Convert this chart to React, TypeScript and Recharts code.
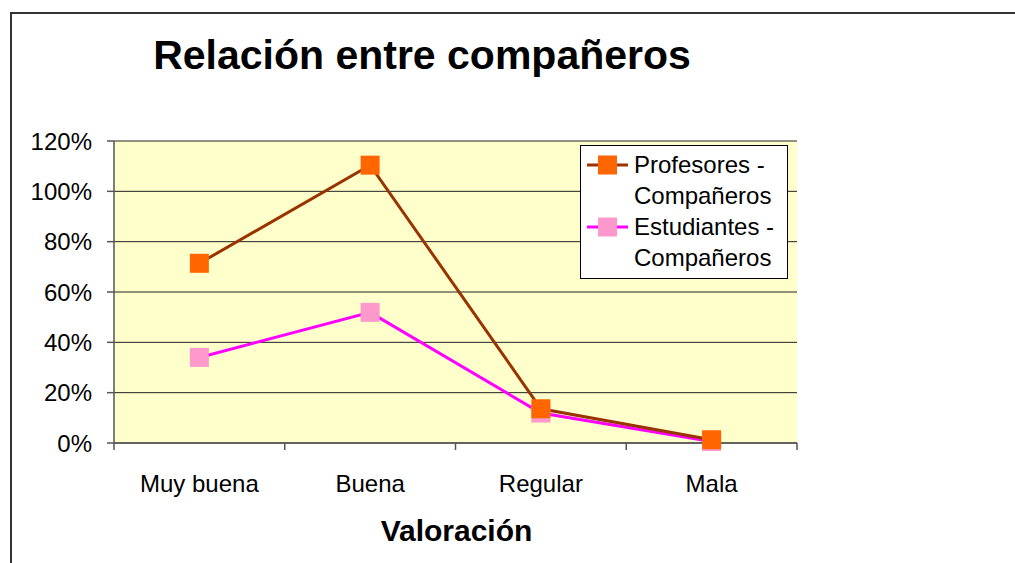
import React from 'react';
import { LineChart, Line, XAxis, YAxis, CartesianGrid } from 'recharts';

const categories = ['Muy buena', 'Buena', 'Regular', 'Mala'];
const profesores = [71.4, 110.4, 13.6, 1.3];
const estudiantes = [34, 51.9, 11.9, 0.6];
const yTicks = [0, 20, 40, 60, 80, 100, 120];

const data = categories.map((name, i) => ({
  name,
  profesores: profesores[i],
  estudiantes: estudiantes[i],
}));

const FONT = '"Liberation Sans", Arial, sans-serif';
const PLOT_LEFT = 114;
const PLOT_RIGHT = 797;
const BAND = (PLOT_RIGHT - PLOT_LEFT) / categories.length;

const SquareDot = (fill: string) => (props: any) => {
  const { cx, cy, index } = props;
  if (cx == null || cy == null) return null;
  return <rect key={index} x={cx - 9.5} y={cy - 9.5} width={19} height={19} fill={fill} />;
};

const CategoryTick = (props: any) => {
  const { x, y, payload, index } = props;
  const axisY = y - 8;
  return (
    <g>
      <line x1={x - BAND / 2} x2={x - BAND / 2} y1={axisY} y2={axisY + 7} stroke="#555" strokeWidth={1.5} />
      {index === categories.length - 1 && (
        <line x1={x + BAND / 2} x2={x + BAND / 2} y1={axisY} y2={axisY + 7} stroke="#555" strokeWidth={1.5} />
      )}
      <text x={x} y={axisY + 49} textAnchor="middle" fontSize={24} fontFamily={FONT} fill="#000">
        {payload.value}
      </text>
    </g>
  );
};

const legendItems = [
  { lines: ['Profesores -', 'Compañeros'], stroke: '#993300', fill: '#FF6600' },
  { lines: ['Estudiantes -', 'Compañeros'], stroke: '#FF00FF', fill: '#FF99CC' },
];

const LegendBox = () => (
  <div
    style={{
      position: 'absolute',
      left: 580,
      top: 145,
      border: '1px solid #000',
      background: '#fff',
      width: 208,
      padding: '3px 0 5px 0',
      fontFamily: FONT,
      fontSize: 24,
      lineHeight: '31px',
      color: '#000',
      boxSizing: 'border-box',
    }}
  >
    {legendItems.map((it) => (
      <div key={it.lines[0]} style={{ display: 'flex', alignItems: 'flex-start' }}>
        <svg width={53} height={31} style={{ flex: 'none' }}>
          <line x1={6} x2={47} y1={16} y2={16} stroke={it.stroke} strokeWidth={3} />
          <rect x={17} y={6.5} width={19} height={19} fill={it.fill} />
        </svg>
        <div>
          {it.lines.map((l) => (
            <div key={l}>{l}</div>
          ))}
        </div>
      </div>
    ))}
  </div>
);

export default function App() {
  return (
    <div style={{ position: 'absolute', left: 0, top: 0, width: 1015, height: 563, overflow: 'hidden', background: '#fff' }}>
      <div
        style={{
          position: 'absolute',
          left: 10,
          top: 12,
          width: 1100,
          height: 600,
          border: '2px solid #333',
        }}
      />
      <div
        style={{
          position: 'absolute',
          left: 0,
          width: 844,
          top: 35,
          textAlign: 'center',
          fontFamily: FONT,
          fontWeight: 'bold',
          fontSize: 41,
          lineHeight: '41px',
          color: '#000',
        }}
      >
        Relación entre compañeros
      </div>
      <div
        style={{
          position: 'absolute',
          left: 0,
          width: 913,
          top: 516,
          textAlign: 'center',
          fontFamily: FONT,
          fontWeight: 'bold',
          fontSize: 30,
          lineHeight: '30px',
          color: '#000',
        }}
      >
        Valoración
      </div>
      <div style={{ position: 'absolute', left: 0, top: 0 }}>
        <LineChart
          width={1015}
          height={563}
          data={data}
          margin={{ top: 141, right: 1015 - PLOT_RIGHT, bottom: 90, left: PLOT_LEFT - 60 }}
        >
          <CartesianGrid vertical={false} stroke="#222" strokeWidth={1} fill="#FFFFCC" fillOpacity={1} />
          <XAxis
            dataKey="name"
            padding={{ left: BAND / 2, right: BAND / 2 }}
            tickLine={false}
            axisLine={{ stroke: '#555', strokeWidth: 1.5 }}
            tick={<CategoryTick />}
            height={30}
            interval={0}
          />
          <YAxis
            domain={[0, 120]}
            ticks={yTicks}
            tickFormatter={(v: number) => `${v}%`}
            width={60}
            tickSize={7}
            tickMargin={15}
            axisLine={{ stroke: '#555', strokeWidth: 1.5 }}
            tickLine={{ stroke: '#555', strokeWidth: 1.5 }}
            tick={{ fontSize: 24, fontFamily: FONT, fill: '#000' }}
            interval={0}
          />
          {/* estudiantes first so the profesores markers sit on top, as in the original */}
          <Line
            type="linear"
            dataKey="estudiantes"
            name="Estudiantes - Compañeros"
            stroke="#FF00FF"
            strokeWidth={3}
            dot={SquareDot('#FF99CC')}
            activeDot={false}
            isAnimationActive={false}
          />
          <Line
            type="linear"
            dataKey="profesores"
            name="Profesores - Compañeros"
            stroke="#993300"
            strokeWidth={3}
            dot={SquareDot('#FF6600')}
            activeDot={false}
            isAnimationActive={false}
          />
        </LineChart>
      </div>
      <LegendBox />
    </div>
  );
}
